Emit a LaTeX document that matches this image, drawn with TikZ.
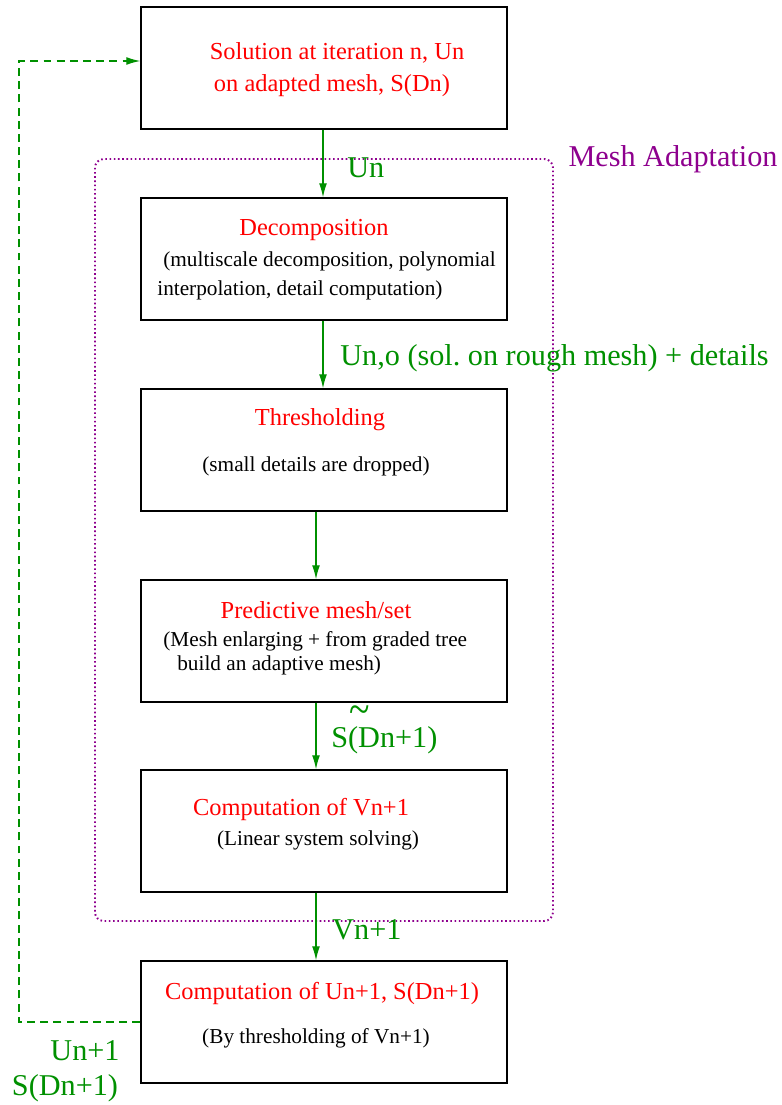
\documentclass[tikz,border=0pt]{standalone}
\usepackage{fontspec}
\usepackage{graphicx}
\setmainfont{Liberation Serif}
\usetikzlibrary{arrows.meta}
\definecolor{title}{HTML}{FF0000}
\definecolor{flowc}{HTML}{009000}
\definecolor{adapt}{HTML}{8E008E}
\tikzset{
  box/.style={draw, line width=0.8pt, minimum width=7.32cm, minimum height=2.44cm, inner sep=0pt},
  head/.style={text=title, font=\fontsize{13.9}{16}\selectfont, inner sep=0pt},
  note/.style={text=black, font=\fontsize{12.1}{14}\selectfont, inner sep=0pt},
  lab/.style={text=flowc, font=\fontsize{17.2}{20}\selectfont, inner sep=0pt},
  flow/.style={draw=flowc, line width=0.7pt, -{Latex[length=8pt, width=4.5pt]}},
  back/.style={draw=flowc, line width=0.7pt, dash pattern=on 4.5pt off 3pt, -{Latex[length=8pt, width=4.5pt]}},
  adaptbox/.style={draw=adapt, line width=1.1pt, dash pattern=on 0.9pt off 1.5pt, rounded corners=5pt}
}
\newcommand{\HighTilde}{\makebox[0pt][r]{\raisebox{0.76em}{\scalebox{1.25}[1.5]{\textasciitilde}}\hspace{5.5pt}}}

\begin{document}
\begin{tikzpicture}[x=0.02cm, y=-0.02cm]
  \useasboundingbox (0,0) rectangle (781,1105);

  % adaptation loop frame
  \draw[adaptbox] (95,159) rectangle (553,921);
  \node[text=adapt, font=\fontsize{17.2}{20}\selectfont, inner sep=0pt] (madapt) at (673,159) {Mesh Adaptation};

  % boxes
  \node[box] (b1) at (324,68) {};
  \node[box] (b2) at (324,259) {};
  \node[box] (b3) at (324,450) {};
  \node[box] (b4) at (324,641) {};
  \node[box] (b5) at (324,831) {};
  \node[box] (b6) at (324,1022) {};

  % box texts
  \node[head] (h1a) at (337,53) {Solution at iteration n, Un};
  \node[head] (h1b) at (332,86) {on adapted mesh, S(Dn)};

  \node[head] (h2) at (314,230) {Decomposition};
  \node[note, anchor=west] (n2a) at (163,261) {(multiscale decomposition, polynomial};
  \node[note, anchor=west] (n2b) at (157,290) {interpolation, detail computation)};

  \node[head] (h3) at (320,420) {Thresholding};
  \node[note] (n3) at (316,466) {(small details are dropped)};

  \node[head] (h4) at (316,610) {Predictive mesh/set};
  \node[note, anchor=west] (n4a) at (163,641) {(Mesh enlarging + from graded tree};
  \node[note, anchor=west] (n4b) at (177,665) {build an adaptive mesh)};

  \node[head] (h5) at (301,809) {Computation of Vn+1};
  \node[note] (n5) at (318,840) {(Linear system solving)};

  \node[head] (h6) at (322,993) {Computation of Un+1, S(Dn+1)};
  \node[note] (n6) at (316,1038) {(By thresholding of Vn+1)};

  % connectors
  \draw[flow] ([xshift=-0.02cm]b1.south) -- ([xshift=-0.02cm]b2.north);
  \draw[flow] ([xshift=-0.02cm]b2.south) -- ([xshift=-0.02cm]b3.north);
  \draw[flow] ([xshift=-0.16cm]b3.south) -- ([xshift=-0.16cm]b4.north);
  \draw[flow] ([xshift=-0.16cm]b4.south) -- ([xshift=-0.16cm]b5.north);
  \draw[flow] ([xshift=-0.16cm]b5.south) -- ([xshift=-0.16cm]b6.north);

  \coordinate (loopbot) at (19,1022);
  \coordinate (looptop) at (19,61);
  \draw[back] (b6.west) -- (loopbot) -- (looptop) -- (looptop -| b1.west);

  % connector labels
  \node[lab, anchor=west] (l1) at (347,168) {Un};
  \node[lab, anchor=west] (l2) at (340,358) {Un,o (sol.\ on rough mesh) + details};
  \node[lab, anchor=base west] (l4) at (331,747) {S(D\HighTilde n+1)};
  \node[lab, anchor=west] (l5) at (332,930) {Vn+1};
  \node[lab] (l6a) at (85,1051) {Un+1};
  \node[lab] (l6b) at (65,1088) {S(Dn+1)};
\end{tikzpicture}
\end{document}
